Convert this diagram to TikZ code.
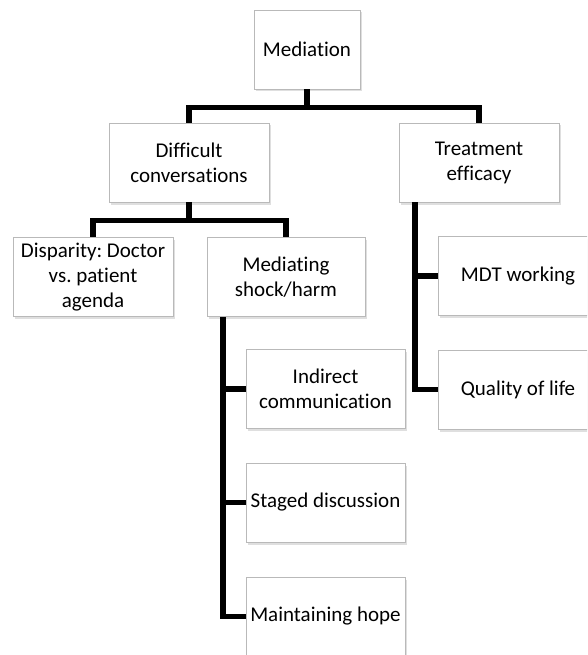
\documentclass[tikz,border=0pt]{standalone}
\usepackage{fontspec}
\setmainfont{Carlito}[Ligatures={NoCommon}]
\frenchspacing
\usetikzlibrary{shadows}
\begin{document}
\begin{tikzpicture}[x=1pt,y=-1pt,
  box/.style={draw=gray!55, line width=0.8pt, fill=white, rectangle, align=center,
    inner sep=1pt, minimum width=160pt, minimum height=79pt,
    font=\fontsize{21}{25}\selectfont,
    drop shadow={shadow xshift=1.5pt, shadow yshift=-2.5pt, opacity=0.25, fill=gray}},
  conn/.style={line width=5.5pt, line join=miter, line cap=butt}]
\useasboundingbox (0,0) rectangle (587,655);
\clip (0,0) rectangle (587,655);
\node[box, minimum width=106pt] (med) at (307,49.5) {Mediation};
\node[box] (dc) at (189,162.5) {Difficult\\conversations};
\node[box] (te) at (479,162.5) {Treatment\\efficacy};
\node[box] (disp) at (93,277) {Disparity: Doctor\\vs. patient\\agenda};
\node[box, minimum width=158pt] (ms) at (286,277) {Mediating\\shock/harm};
\node[box] (mdt) at (518,276) {MDT working};
\node[box] (ql) at (518,389.5) {Quality of life};
\node[box, minimum width=159pt] (ic) at (325.5,389) {Indirect\\communication};
\node[box, minimum width=159pt] (sd) at (325.5,502.5) {Staged discussion};
\node[box, minimum width=159pt] (mh) at (325.5,616.5) {Maintaining hope};
\coordinate (tx) at (415,0);
\coordinate (mx) at (223,0);
\draw[conn] (med.south) -- ++(0,18) -| (dc.north);
\draw[conn] (med.south) -- ++(0,18) -| (te.north);
\draw[conn] (dc.south) -- ++(0,18) -| (disp.north);
\draw[conn] (dc.south) -- ++(0,18) -| (ms.north);
\draw[conn] (te.south -| tx) |- (ql.west);
\draw[conn] (tx |- mdt.west) -- (mdt.west);
\draw[conn] (ms.south -| mx) |- (mh.west);
\draw[conn] (mx |- ic.west) -- (ic.west);
\draw[conn] (mx |- sd.west) -- (sd.west);
\end{tikzpicture}
\end{document}
